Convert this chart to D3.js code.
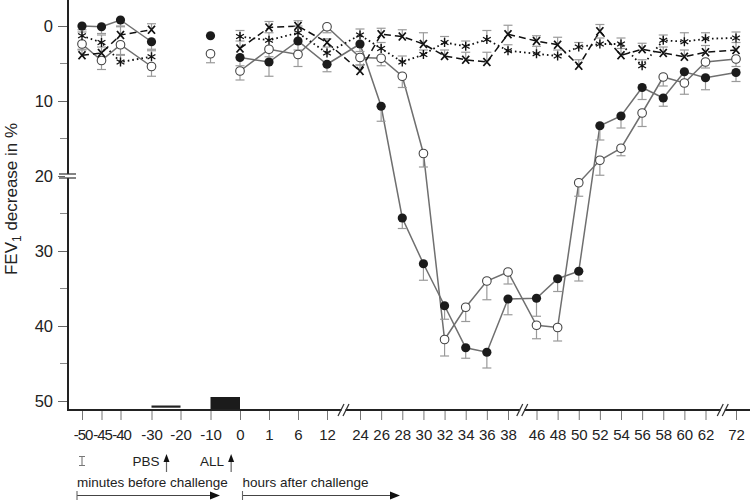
<!DOCTYPE html>
<html>
<head>
<meta charset="utf-8">
<script src="https://cdn.jsdelivr.net/npm/d3@7"></script>
<style>
  body { margin: 0; background: #fff; }
  svg { font-family: "Liberation Sans", Arial, sans-serif; }
</style>
</head>
<body>
<script>
// Time points (minutes before challenge, then hours after challenge)
const times = [-50, -45, -40, -30, -20, -10, 0, 1, 6, 12, 24, 26, 28, 30, 32, 34, 36, 38, 46, 48, 50, 52, 54, 56, 58, 60, 62, 72]

// FEV1 decrease in %, one value per time point (null = not measured)
const filled = [0, 0.1, -0.8, 2.1, null, 1.3, 4.2, 4.8, 2.0, 5.1, 2.4, 10.7, 25.6, 31.7, 37.3, 42.9, 43.5, 36.4, 36.3, 33.7, 32.7, 13.3, 12.0, 8.2, 9.6, 6.1, 6.9, 6.2]
const filledErr = [0.8, 0.9, 0.8, 1.0, null, 0, 1.1, 1.9, 1.2, 1.0, 1.0, 2.0, 1.4, 2.2, 1.8, 1.4, 2.1, 2.1, 2.4, 1.7, 1.3, 1.9, 1.6, 1.6, 1.1, 1.5, 1.6, 1.2]
const open = [2.4, 4.6, 2.5, 5.4, null, 3.7, 6.0, 3.1, 3.8, 0.1, 4.2, 4.3, 6.7, 17.0, 41.8, 37.5, 34.0, 32.8, 39.9, 40.2, 20.9, 17.9, 16.3, 11.6, 6.8, 7.6, 4.8, 4.4]
const openErr = [0.8, 1.2, 1.4, 1.3, null, 1.2, 1.2, 1.0, 1.6, 0.8, 1.0, 1.0, 1.5, 1.8, 2.2, 1.9, 2.5, 1.6, 1.8, 1.8, 1.8, 2.0, 1.0, 1.8, 1.2, 1.5, 0.8, 1.0]
const cross = [3.9, 3.6, 1.2, 0.5, null, null, 3.0, 0.2, 0.0, 2.2, 6.0, 1.1, 1.4, 2.4, 4.0, 4.5, 4.8, 1.1, 2.0, 2.5, 5.3, 0.7, 3.9, 3.1, 3.6, 4.1, 3.5, 3.2]
const crossErr = [0.8, 0.8, 1.1, 0.8, null, null, 1.0, 0.8, 0.7, 0.5, 0.8, 0.8, 0.9, 1.5, 0.8, 1.0, 1.3, 1.2, 0.7, 1.0, 0.8, 0.9, 0.9, 0.8, 0.8, 0.9, 0.9, 1.0]
const star = [1.3, 2.2, 4.8, 4.1, null, null, 1.4, 1.9, 0.9, 3.6, 1.2, 3.0, 4.8, 3.8, 2.2, 2.7, 1.8, 3.3, 3.7, 4.0, 2.8, 2.4, 2.4, 5.3, 1.9, 2.1, 1.7, 1.6]
const starErr = [0.8, 1.0, 1.0, 0.8, null, null, 0.8, 1.0, 0.9, 0.8, 0.8, 0.8, 0.8, 0.6, 0.8, 0.7, 1.2, 0.8, 1.0, 0.8, 0.6, 0.8, 0.8, 0.8, 0.7, 1.2, 0.8, 0.8]

// Connected runs of the curves (in time values)
const segments = [[-50, -30], [-10, -10], [0, 72]]

const yTicks = [0, 10, 20, 30, 40, 50]
const yMinor = [5, 15, 25, 35, 45]
const xBreaks = [12, 38, 62]   // axis broken after these time points

const width = 750
const height = 500
const axisX = 68
const axisY = 410

const svg = d3.select('body').append('svg')
  .attr('width', width)
  .attr('height', height)

// Scales: x is a piecewise scale over the time point index
const x = d3.scaleLinear()
  .domain([0, 1, 2, 3, 4, 5, 6, 9, 10, 17, 18, 26, 27])
  .range([82, 101.5, 120.5, 151.5, 180.5, 210.5, 240, 327, 360, 508, 536.5, 705.5, 736])
const y = d3.scaleLinear()
  .domain([0, 50])
  .range([26, 401])

const idx = t => times.indexOf(t)

// Y axis
const yAxis = svg.append('g')
  .attr('transform', `translate(${axisX},0)`)
  .call(d3.axisLeft(y).tickValues(yTicks).tickSize(10).tickPadding(5))
yAxis.select('.domain').remove()
yAxis.selectAll('line').attr('stroke', '#666')
yAxis.selectAll('text').attr('font-size', 16.5).attr('fill', '#222')
svg.append('g')
  .selectAll('line')
  .data(yMinor)
  .enter()
  .append('line')
  .attr('x1', axisX - 8)
  .attr('x2', axisX)
  .attr('y1', d => y(d))
  .attr('y2', d => y(d))
  .attr('stroke', '#888')

// X axis
const xAxis = svg.append('g')
  .attr('transform', `translate(0,${axisY})`)
  .call(d3.axisBottom(x).tickValues(d3.range(times.length)).tickFormat(i => times[i]).tickSize(10).tickPadding(9))
xAxis.select('.domain').remove()
xAxis.selectAll('line').attr('stroke', '#777')
xAxis.selectAll('text')
  .attr('font-size', 15)
  .attr('fill', '#222')
  .attr('letter-spacing', i => i < 3 ? -1.1 : null)
  .attr('dx', i => i < 3 ? 0.5 : null)

// Frame lines
svg.append('line')
  .attr('x1', axisX).attr('x2', axisX)
  .attr('y1', 0).attr('y2', axisY + 1)
  .attr('stroke', '#222').attr('stroke-width', 2)
svg.append('line')
  .attr('x1', axisX - 1).attr('x2', width)
  .attr('y1', axisY).attr('y2', axisY)
  .attr('stroke', '#222').attr('stroke-width', 2)

// Axis breaks
xBreaks.forEach(t => {
  const bx = (x(idx(t)) + x(idx(t) + 1)) / 2 + (t === 62 ? 2 : 0)
  svg.append('rect')
    .attr('x', bx - 2).attr('y', axisY - 3).attr('width', 4).attr('height', 6)
    .attr('fill', '#fff')
  ;[-2.5, 2.5].forEach(o => {
    svg.append('line')
      .attr('x1', bx + o - 3).attr('x2', bx + o + 3)
      .attr('y1', axisY + 6).attr('y2', axisY - 6)
      .attr('stroke', '#333').attr('stroke-width', 1.2)
  })
})
svg.append('rect')
  .attr('x', axisX - 3).attr('y', y(20) - 2).attr('width', 6).attr('height', 4)
  .attr('fill', '#fff')
;[-2, 2].forEach(o => {
  svg.append('line')
    .attr('x1', axisX - 9).attr('x2', axisX + 8)
    .attr('y1', y(20) + o).attr('y2', y(20) + o)
    .attr('stroke', '#333').attr('stroke-width', 1.2)
})

// Y axis label
svg.append('text')
  .attr('transform', `translate(17,199) rotate(-90)`)
  .attr('text-anchor', 'middle')
  .attr('font-size', 17)
  .attr('fill', '#222')
  .call(t => {
    t.append('tspan').text('FEV')
    t.append('tspan').attr('font-size', 12).attr('dy', 4).text('1')
    t.append('tspan').attr('dy', -4).text(' decrease in %')
  })

// Series definitions
const series = [
  { values: filled, err: filledErr, dir: 1, stroke: '#6f6f6f', dash: null, width: 1.5, marker: 'filled' },
  { values: open, err: openErr, dir: 1, stroke: '#6f6f6f', dash: null, width: 1.5, marker: 'open' },
  { values: cross, err: crossErr, dir: -1, stroke: '#111', dash: '7,4', width: 1.5, marker: 'cross' },
  { values: star, err: starErr, dir: -1, stroke: '#111', dash: '1.6,3', width: 1.8, marker: 'star' }
]

const line = d3.line()
  .x(d => x(d.i))
  .y(d => y(d.v))

const points = s => s.values
  .map((v, i) => ({ i, v, e: s.err[i], t: times[i] }))
  .filter(d => d.v != null)

// Lines
series.forEach(s => {
  segments.forEach(([a, b]) => {
    const pts = points(s).filter(d => d.t >= a && d.t <= b)
    if (pts.length < 2) return
    svg.append('path')
      .attr('d', line(pts))
      .attr('fill', 'none')
      .attr('stroke', s.stroke)
      .attr('stroke-width', s.width)
      .attr('stroke-dasharray', s.dash)
  })
})

// Error bars
series.forEach(s => {
  const g = svg.append('g').attr('stroke', '#9a9a9a').attr('stroke-width', 1.2)
  points(s).filter(d => d.e > 0).forEach(d => {
    const y0 = y(d.v)
    const y1 = y(d.v + s.dir * d.e)
    g.append('line')
      .attr('x1', x(d.i)).attr('x2', x(d.i))
      .attr('y1', y0).attr('y2', y1)
    g.append('line')
      .attr('x1', x(d.i) - 4.5).attr('x2', x(d.i) + 4.5)
      .attr('y1', y1).attr('y2', y1)
  })
})

// Markers
series.forEach(s => {
  const g = svg.append('g')
  points(s).forEach(d => {
    const cx = x(d.i)
    const cy = y(d.v)
    if (s.marker === 'filled') {
      g.append('circle').attr('cx', cx).attr('cy', cy).attr('r', 4.6).attr('fill', '#1b1b1b')
    } else if (s.marker === 'open') {
      g.append('circle').attr('cx', cx).attr('cy', cy).attr('r', 4.3)
        .attr('fill', '#fff').attr('stroke', '#444').attr('stroke-width', 1.1)
    } else if (s.marker === 'cross') {
      g.append('path')
        .attr('transform', `translate(${cx},${cy})`)
        .attr('d', 'M-3.5,-4L3.5,4M3.5,-4L-3.5,4')
        .attr('stroke', '#111').attr('stroke-width', 1.8).attr('fill', 'none')
    } else {
      g.append('path')
        .attr('transform', `translate(${cx},${cy})`)
        .attr('d', 'M0,-4.5V4.5M-3.9,-2.25L3.9,2.25M-3.9,2.25L3.9,-2.25')
        .attr('stroke', '#111').attr('stroke-width', 1.4).attr('fill', 'none')
    }
  })
})

// Challenge period bars
svg.append('rect')
  .attr('x', x(idx(-30))).attr('y', 405.5)
  .attr('width', x(idx(-20)) - x(idx(-30))).attr('height', 2.2)
  .attr('fill', '#222')
svg.append('rect')
  .attr('x', x(idx(-10))).attr('y', 397)
  .attr('width', x(idx(0)) - x(idx(-10))).attr('height', 12)
  .attr('fill', '#1b1b1b')

// Annotations below the axis
const note = svg.append('g').attr('font-size', 13.5).attr('fill', '#222')

note.append('path')
  .attr('d', `M${x(0) - 3},456.5h6M${x(0)},456.5V465.5M${x(0) - 3},465.5h6`)
  .attr('stroke', '#777').attr('stroke-width', 1.1).attr('fill', 'none')

const arrowUp = (ax, label) => {
  note.append('line')
    .attr('x1', ax).attr('x2', ax).attr('y1', 461).attr('y2', 472)
    .attr('stroke', '#666').attr('stroke-width', 1.2)
  note.append('path')
    .attr('d', `M${ax - 3},462L${ax},454L${ax + 3},462Z`)
    .attr('fill', '#111')
  note.append('text')
    .attr('x', ax - 7).attr('y', 465.5)
    .attr('text-anchor', 'end')
    .text(label)
}
arrowUp(x(3.5) + 0.5, 'PBS')
arrowUp(x(5.7), 'ALL')

const arrowRight = (x0, x1, label) => {
  note.append('text')
    .attr('x', x0).attr('y', 487)
    .text(label)
  note.append('line')
    .attr('x1', x0).attr('x2', x1 - 8).attr('y1', 495.5).attr('y2', 495.5)
    .attr('stroke', '#444').attr('stroke-width', 1.1)
  note.append('line')
    .attr('x1', x0).attr('x2', x0).attr('y1', 491).attr('y2', 500)
    .attr('stroke', '#666').attr('stroke-width', 1.1)
  note.append('path')
    .attr('d', `M${x1 - 10},491.5L${x1},495.5L${x1 - 10},499.5Z`)
    .attr('fill', '#111')
}
arrowRight(77, 220, 'minutes before challenge')
arrowRight(242.5, 400, 'hours after challenge')
</script>
</body>
</html>
